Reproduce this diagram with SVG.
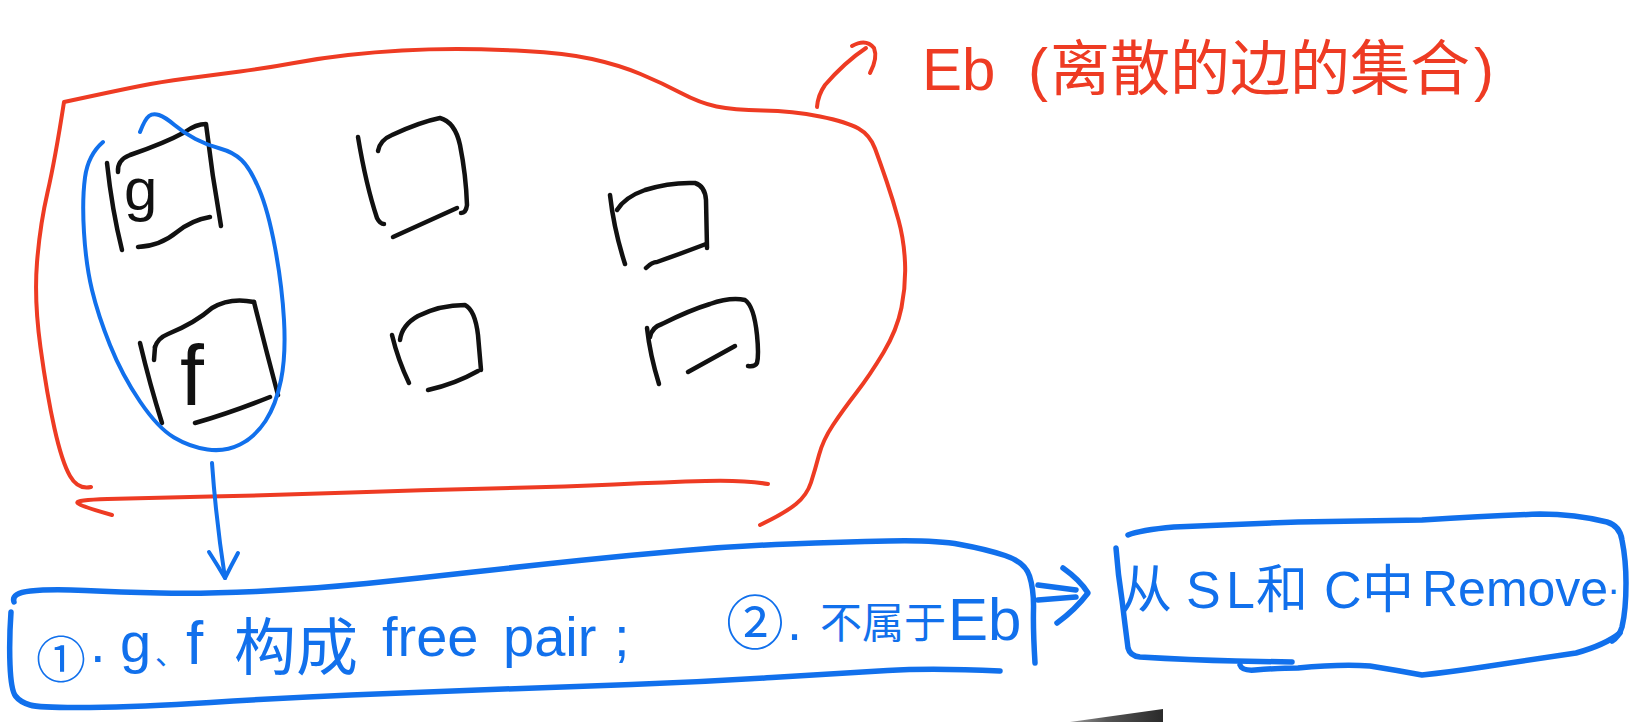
<svg xmlns="http://www.w3.org/2000/svg" width="1649" height="722" viewBox="0 0 1649 722">
<defs>
<style>
.red{fill:none;stroke:#ee3b23;stroke-width:4;stroke-linecap:round;stroke-linejoin:round}
.blue{fill:none;stroke:#1170ec;stroke-width:4;stroke-linecap:round;stroke-linejoin:round}
.bluebox{fill:none;stroke:#1170ec;stroke-width:5.5;stroke-linecap:round;stroke-linejoin:round}
.blk{fill:none;stroke:#111;stroke-width:4.5;stroke-linecap:round;stroke-linejoin:round}
.t{font-family:"Liberation Sans","Noto Sans CJK SC",sans-serif}
.tb{fill:#1170ec}
.tr{fill:#ee3b23}
.tk{fill:#111}
</style>
<linearGradient id="wedge" x1="0" y1="0" x2="1" y2="0">
<stop offset="0" stop-color="#9a9a9a"/>
<stop offset="0.4" stop-color="#555"/>
<stop offset="1" stop-color="#2a2a2a"/>
</linearGradient>
</defs>
<rect width="1649" height="722" fill="#fff"/>

<g id="eb-set">
<path class="red" d="M 91 487 Q 78 490 70 476 Q 62 462 54.5 428.5 Q 47 395 40.5 347.5 Q 34 300 37 262.5 Q 40 225 47.5 192.5 Q 55 160 64 102 L 92 96 Q 120 90 140 86 Q 160 82 186.5 78.5 Q 213 75 240 71.5 Q 267 68 294 63 Q 321 58 348 55 Q 375 52 402 50.5 Q 429 49 456.5 49 Q 484 49 524.5 51 Q 565 53 592 59 Q 619 65 640.5 74 Q 662 83 681 93 Q 700 103 716.5 106.5 Q 733 110 763 110.5 Q 793 111 820 116.5 Q 847 122 858.5 128.5 Q 870 135 875 148.5 Q 880 162 886.5 181 Q 893 200 898.5 220 Q 904 240 905 262.5 Q 906 285 901.5 307.5 Q 897 330 883.5 352.5 Q 870 375 856.5 392.5 Q 843 410 833 425 Q 823 440 819 455 Q 815 470 811 482.5 Q 807 495 796 504 Q 785 513 760 525"/>
<path class="red" d="M 112 515 Q 80 506 77.5 503 Q 75 500 107.5 499 Q 140 498 210.5 496.5 Q 281 495 351 492.5 Q 421 490 491 488.5 Q 561 487 614 484.5 Q 667 482 705.5 481 Q 744 480 768 484"/>
</g>

<g id="title-eb">
<text class="t tr" y="90" font-size="60"><tspan x="922">Eb</tspan><tspan x="1028">(</tspan><tspan x="1050">离散的边的集合</tspan><tspan x="1474">)</tspan></text>
</g>

<g id="square-g">
<path class="blk" d="M 107 163 Q 112 210 122 250"/>
<path class="blk" d="M 118 172 Q 117 160 130 155 Q 165 143 185 132 Q 196 124 206 124 Q 212 175 221 226"/>
<path class="blk" d="M 138 247 Q 160 246 177 232 Q 192 220 210 217"/>
<text class="t tk" x="124" y="210" font-size="60">g</text>
</g>

<g id="square-f">
<path class="blk" d="M 140 343 Q 150 385 162 423"/>
<path class="blk" d="M 155 347 L 154 360"/>
<path class="blk" d="M 155 347 Q 158 338 168 334 Q 195 323 212 308 Q 230 297 254 302"/>
<path class="blk" d="M 254 302 Q 266 350 278 395"/>
<path class="blk" d="M 195 423 Q 230 413 270 397"/>
<text class="t tk" x="180" y="405" font-size="86">f</text>
</g>

<g id="square-a">
<path class="blk" d="M 358 137 Q 366 185 377 218 Q 380 224 384 224"/>
<path class="blk" d="M 378 151 Q 380 140 392 135 Q 420 122 440 118 Q 455 122 460 145 Q 466 175 467 205 Q 466 213 461 213"/>
<path class="blk" d="M 393 237 L 457 208"/>
</g>

<g id="square-b">
<path class="blk" d="M 610 195 Q 614 230 625 264"/>
<path class="blk" d="M 617 210 Q 625 197 645 190 Q 670 182 695 183 Q 705 186 706 200 L 707 248"/>
<path class="blk" d="M 646 268 Q 652 262 657 262 Q 685 252 706 244"/>
</g>

<g id="square-c">
<path class="blk" d="M 392 335 Q 398 360 409 383"/>
<path class="blk" d="M 400 340 Q 402 325 418 316 Q 440 305 465 305 Q 475 310 478 335 L 481 370"/>
<path class="blk" d="M 428 390 Q 455 384 478 371"/>
</g>

<g id="square-d">
<path class="blk" d="M 647 328 Q 650 355 659 384"/>
<path class="blk" d="M 650 337 Q 652 327 662 324 Q 690 310 710 304 Q 730 297 745 300 Q 754 306 757 335 Q 759 355 757 363 Q 755 367 748 366"/>
<path class="blk" d="M 688 372 L 735 346"/>
</g>

<g id="pair-loop">
<path class="blue" d="M 103 142 Q 88 155 85 177.5 Q 82 200 84 232.5 Q 86 265 92 290 Q 98 315 110 345 Q 122 375 140 401.5 Q 158 428 174 437.5 Q 190 447 207.5 449.5 Q 225 452 240 444.5 Q 255 437 265.5 421 Q 276 405 281 380 Q 286 355 284 320 Q 282 285 275 247.5 Q 268 210 259 189 Q 250 168 241.5 160 Q 233 152 220 148.5 Q 207 145 195.5 139 Q 184 133 174.5 125 Q 165 117 159 115 Q 153 113 149 116 Q 145 119 140 132"/>
</g>

<g id="box-step1">
<path class="bluebox" d="M 14 602 Q 11 593 30.5 591 Q 50 589 85 590.5 Q 120 592 160 593 Q 200 594 256 591.5 Q 312 589 366.5 583.5 Q 421 578 473.5 572 Q 526 566 579 560.5 Q 632 555 684.5 550.5 Q 737 546 789.5 544 Q 842 542 888.5 541 Q 935 540 960 544.5 Q 985 549 1005 555.5 Q 1025 562 1029.5 576 Q 1034 590 1033.5 610 Q 1033 630 1035 663"/>
<path class="bluebox" d="M 11 612 Q 9 640 10 665 Q 11 690 15.5 696 Q 20 702 30 705 Q 40 708 90 707.5 Q 140 707 210.5 702.5 Q 281 698 351 695 Q 421 692 491 689.5 Q 561 687 631.5 684.5 Q 702 682 772 677.5 Q 842 673 887.5 670.5 Q 933 668 1000 671"/>
<text class="t tb" font-size="56"><tspan x="36" y="678" font-size="50">①</tspan><tspan x="90" y="662">.</tspan><tspan x="120" y="662">g</tspan><tspan x="155" y="664" font-size="30">、</tspan><tspan x="186" y="664" font-size="62">f</tspan><tspan x="234" y="670" font-size="62">构成</tspan><tspan x="382" y="656">free</tspan><tspan x="503" y="656">pair</tspan><tspan x="614" y="656">;</tspan></text>
<text class="t tb" font-size="58"><tspan x="726" y="644">②</tspan><tspan x="787" y="640" font-size="54">.</tspan><tspan x="820" y="638" font-size="42">不属于</tspan><tspan x="948" y="640" font-size="60">Eb</tspan></text>
</g>

<g id="box-remove">
<path class="bluebox" d="M 1128 535 Q 1140 530 1174 527 Q 1236 524 1298 522 Q 1360 521 1422 520 Q 1490 516 1540 514 Q 1575 514 1607 522 Q 1620 526 1622 540 Q 1626 560 1626 583 Q 1626 610 1622 627 Q 1619 637 1612 641"/>
<path class="bluebox" d="M 1116 548 Q 1118 575 1122 600 Q 1125 625 1128 648 Q 1130 656 1140 657 Q 1190 660 1236 661 L 1292 662"/>
<path class="bluebox" d="M 1240 665 Q 1242 671 1255 670 Q 1280 668 1298 668 Q 1340 664 1370 666 Q 1395 670 1422 675 Q 1450 672 1483 667 Q 1530 660 1576 653 Q 1605 645 1620 633"/>
<text class="t tb" y="608" font-size="52"><tspan x="1120">从</tspan><tspan x="1186">S</tspan><tspan x="1226">L</tspan><tspan x="1256">和</tspan><tspan x="1324">C</tspan><tspan x="1362">中</tspan><tspan x="1422" y="606" font-size="50">Remove</tspan><tspan x="1608" y="594" font-size="40">.</tspan></text>
</g>

<g id="connectors">
<path class="red" d="M 817 107 Q 818 95 825 85 Q 845 62 866 48"/>
<path class="red" d="M 852 46 Q 866 38 874 48 Q 878 58 870 73"/>
<path class="blue" d="M 212 463 Q 216 520 225 578"/>
<path class="blue" d="M 209 552 Q 218 566 225 578 Q 231 566 238 553"/>
<path class="bluebox" d="M 1038 585 L 1076 590 M 1038 600 L 1076 597"/>
<path class="bluebox" d="M 1063 568 Q 1080 580 1088 593 Q 1075 610 1057 623"/>
</g>

<polygon points="1070,722 1163,709 1163,722" fill="url(#wedge)"/>
</svg>
